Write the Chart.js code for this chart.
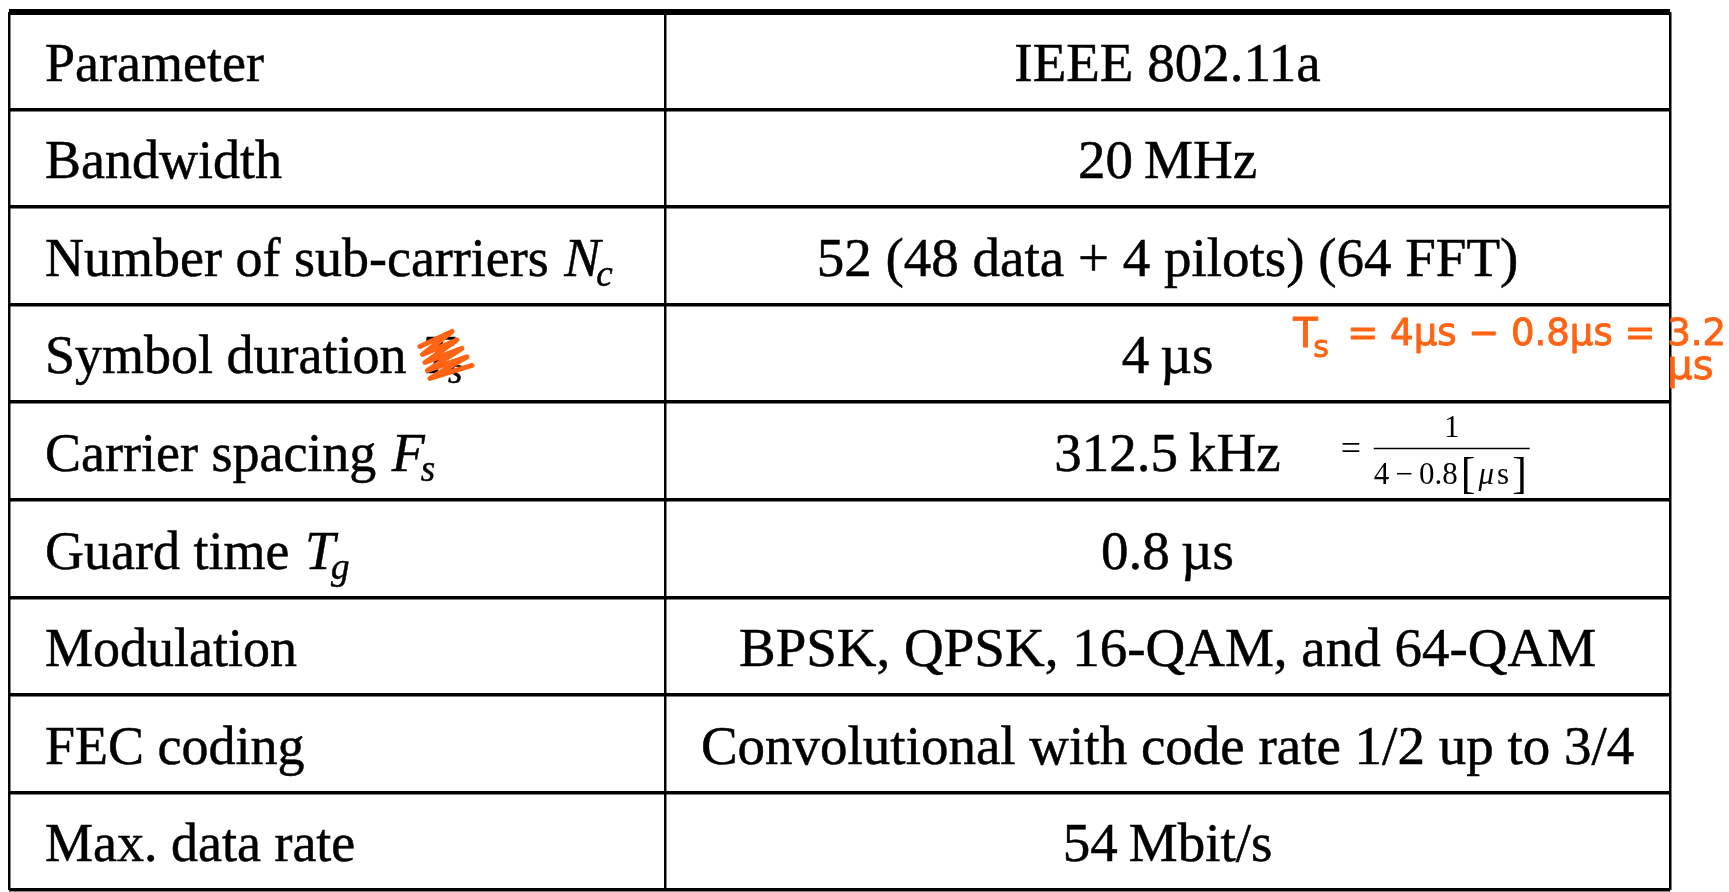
<!DOCTYPE html>
<html>
<head>
<meta charset="utf-8">
<title>IEEE 802.11a parameters</title>
<script src="https://cdn.jsdelivr.net/npm/chart.js@4.4.0/dist/chart.umd.min.js"></script>
<style>
  html, body { margin: 0; padding: 0; background: #fff; }
  #wrap { width: 1729px; height: 892px; }
</style>
</head>
<body>
<div id="wrap"><canvas id="tableCanvas" width="1729" height="892"></canvas></div>
<script>
// table content --------------------------------------------------------------
const PARAM_LABELS = ['Parameter', 'Bandwidth', 'Number of sub-carriers', 'Symbol duration',
  'Carrier spacing', 'Guard time', 'Modulation', 'FEC coding', 'Max. data rate'];
const PARAM_SYMBOLS = [null, null, ['N', 'c'], ['T', 's'], ['F', 's'], ['T', 'g'], null, null, null];
const VALUES = ['IEEE 802.11a', '20\u2009MHz', '52 (48 data + 4 pilots) (64 FFT)', '4\u2009\u00b5s',
  '312.5\u2009kHz', '0.8\u2009\u00b5s', 'BPSK, QPSK, 16-QAM, and 64-QAM',
  'Convolutional with code rate 1/2 up to 3/4', '54\u2009Mbit/s'];

// handwritten notes on the scan
const STRUCK_ROW = 3;                       // symbol scribbled over
const NOTE_ROW = 3;
const NOTE_LINE1 = '= 4\u00b5s \u2212 0.8\u00b5s = 3.2';
const NOTE_LINE2 = '\u00b5s';
const FRACTION_ROW = 4;
const FRACTION_NUM = '1';
const FRACTION_DEN = ['4\u2009\u2212\u20090.8', '[', '\u03bc', 's', ']'];

// look ----------------------------------------------------------------------
const COL_SPLIT = 0.395;                    // column divider, fraction of table width
const SERIF = '"Liberation Serif", "Times New Roman", serif';
const LEFT_FONT = '54px ' + SERIF;
const RIGHT_FONT = '55px ' + SERIF;
const SUB_FONT = 'italic 37px ' + SERIF;
const HAND = '"DejaVu Sans", sans-serif';
const CELL_PAD = 36;
const BASELINE_SHIFT = 20;
const INK = '#000';
const ORANGE = '#ff6414';

function inkText(ctx, s, x, y){
  ctx.fillText(s, x, y);
  ctx.strokeText(s, x, y);
}

const tableText = {
  id: 'tableText',
  afterDatasetsDraw(chart){
    const ctx = chart.ctx;
    ctx.save();
    ctx.fillStyle = INK; ctx.strokeStyle = INK; ctx.lineWidth = 0.5;
    ctx.textBaseline = 'alphabetic';

    // left column
    chart.getDatasetMeta(0).data.forEach((pt, i)=>{
      const base = pt.y + BASELINE_SHIFT;
      let x = pt.x + CELL_PAD;
      ctx.font = LEFT_FONT; ctx.textAlign = 'left';
      inkText(ctx, PARAM_LABELS[i], x, base);
      const sym = PARAM_SYMBOLS[i];
      if(!sym) return;
      x += ctx.measureText(PARAM_LABELS[i] + ' ').width + 2;
      ctx.font = 'italic ' + LEFT_FONT;
      inkText(ctx, sym[0], x, base);
      const w = ctx.measureText(sym[0]).width;
      ctx.font = SUB_FONT;
      inkText(ctx, sym[1], x + w - 4, base + 10);
      if(i === STRUCK_ROW){
        // orange scribble over the symbol
        ctx.save();
        ctx.strokeStyle = ORANGE; ctx.lineWidth = 5;
        ctx.lineCap = 'round'; ctx.lineJoin = 'round';
        ctx.beginPath();
        for(let k=0;k<5;k++){
          const lx = x - 2 + k*2.5, ly = base - 27 + k*8;
          const rx = x + 30 + k*5, ry = base - 42 + k*8.5;
          if(k===0) ctx.moveTo(lx, ly); else ctx.lineTo(lx, ly);
          ctx.lineTo(rx, ry);
        }
        ctx.stroke();
        ctx.restore();
      }
    });

    // right column
    const valueRight = [];
    chart.getDatasetMeta(1).data.forEach((pt, i)=>{
      ctx.font = RIGHT_FONT; ctx.textAlign = 'center';
      inkText(ctx, VALUES[i], pt.x, pt.y + BASELINE_SHIFT);
      valueRight[i] = {x: pt.x + ctx.measureText(VALUES[i]).width/2, y: pt.y};
    });

    // handwritten note next to the symbol duration
    const n = valueRight[NOTE_ROW];
    ctx.fillStyle = ORANGE; ctx.strokeStyle = ORANGE; ctx.lineWidth = 0.9;
    ctx.lineJoin = 'round';
    ctx.textAlign = 'left';
    const nx = n.x + 80;
    ctx.font = '40px ' + HAND; inkText(ctx, 'T', nx, n.y - 6);
    ctx.font = '30px ' + HAND; inkText(ctx, 's', nx + 20, n.y + 4);
    ctx.font = '37px ' + HAND; inkText(ctx, NOTE_LINE1, nx + 54, n.y - 8);
    ctx.font = '40px ' + HAND; inkText(ctx, NOTE_LINE2, nx + 374, n.y + 26);

    // typeset fraction next to the carrier spacing
    const f = valueRight[FRACTION_ROW];
    const barY = f.y - 2.5, barL = f.x + 93, barR = f.x + 249;
    ctx.fillStyle = INK; ctx.strokeStyle = INK;
    ctx.textAlign = 'left';
    ctx.font = '36px ' + SERIF;
    ctx.fillText('=', f.x + 60, barY + 11);
    ctx.lineWidth = 1.6;
    ctx.beginPath(); ctx.moveTo(barL, barY); ctx.lineTo(barR, barY); ctx.stroke();
    ctx.font = '31px ' + SERIF;
    ctx.textAlign = 'center';
    ctx.fillText(FRACTION_NUM, (barL + barR)/2, barY - 12);
    const denFonts = ['31px ' + SERIF, '44px ' + SERIF, 'italic 31px ' + SERIF, '31px ' + SERIF, '44px ' + SERIF];
    let tot = 0;
    const widths = FRACTION_DEN.map((s, k)=>{ ctx.font = denFonts[k]; const w = ctx.measureText(s).width + 3; tot += w; return w; });
    let dx = (barL + barR)/2 - tot/2;
    ctx.textAlign = 'left';
    FRACTION_DEN.forEach((s, k)=>{
      ctx.font = denFonts[k];
      ctx.fillText(s, dx, barY + 35 + (k===1||k===4 ? 4 : 0));
      dx += widths[k];
    });
    ctx.restore();
  }
};

new Chart(document.getElementById('tableCanvas'), {
  type: 'scatter',
  data: {
    datasets: [
      {label: 'Parameter', data: PARAM_LABELS.map((_, i)=>({x: 0, y: i + 0.5})), pointRadius: 0},
      {label: 'IEEE 802.11a', data: VALUES.map((_, i)=>({x: (COL_SPLIT + 1)/2, y: i + 0.5})), pointRadius: 0}
    ]
  },
  options: {
    responsive: false,
    animation: false,
    events: [],
    layout: {padding: {left: 9, top: 12, right: 59, bottom: 2}},
    plugins: {legend: {display: false}, tooltip: {enabled: false}},
    scales: {
      x: {
        type: 'linear', min: 0, max: 1,
        afterBuildTicks: s=>{ s.ticks = [0, COL_SPLIT, 1].map(v=>({value: v})); },
        ticks: {display: false},
        border: {display: false},
        grid: {color: INK, lineWidth: 2.5, drawTicks: false}
      },
      y: {
        type: 'linear', min: 0, max: PARAM_LABELS.length, reverse: true,
        ticks: {display: false, stepSize: 1},
        border: {display: false},
        // the top rule of the table is heavier than the rest
        grid: {color: INK, lineWidth: c=>(c.tick && c.tick.value === 0 ? 6 : 3.5), drawTicks: false}
      }
    }
  },
  plugins: [tableText]
});
</script>
</body>
</html>
